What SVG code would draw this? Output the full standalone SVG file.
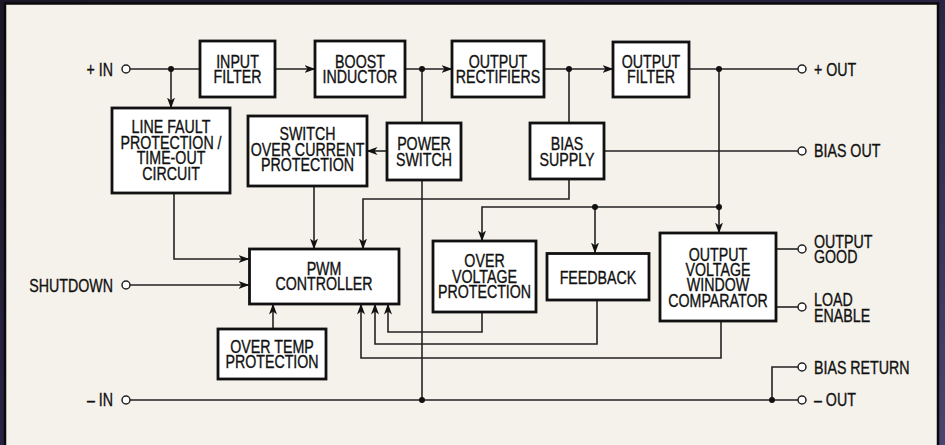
<svg xmlns="http://www.w3.org/2000/svg" width="945" height="445" viewBox="0 0 945 445">
<defs>
<linearGradient id="bg" x1="0" y1="0" x2="1" y2="1">
<stop offset="0" stop-color="#1c1828"/>
<stop offset="0.5" stop-color="#2a2444"/>
<stop offset="1" stop-color="#4a4470"/>
</linearGradient>
<marker id="ah" viewBox="0 0 11 8" refX="10.5" refY="4" markerWidth="11" markerHeight="8" markerUnits="userSpaceOnUse" orient="auto">
<path d="M0,0 L11,4 L0,8 L3,4 z" fill="#111"/>
</marker>
</defs>
<style>
.box{fill:#fff;stroke:#111;stroke-width:2.8}
.ln{fill:none;stroke:#222;stroke-width:1.6}
.dot{fill:#111}
.term{fill:#fff;stroke:#222;stroke-width:1.5}
text{font-family:"Liberation Sans",Arial,sans-serif;font-size:18px;fill:#111;stroke:#111;stroke-width:0.35}
.c{text-anchor:middle}
.e{text-anchor:end}
</style>
<rect x="0" y="0" width="945" height="445" fill="url(#bg)"/>
<rect x="5" y="3.5" width="933" height="446" fill="#f5f2eb" stroke="#0a0a0a" stroke-width="2.5"/>

<g id="connectors">
<line class="ln" x1="130" y1="69" x2="200" y2="69"/>
<line class="ln" x1="171" y1="69" x2="171" y2="108" marker-end="url(#ah)"/>
<line class="ln" x1="275" y1="69" x2="315" y2="69" marker-end="url(#ah)"/>
<line class="ln" x1="405" y1="69" x2="452" y2="69" marker-end="url(#ah)"/>
<line class="ln" x1="422" y1="69" x2="422" y2="123"/>
<line class="ln" x1="422" y1="180" x2="422" y2="400"/>
<line class="ln" x1="544" y1="69" x2="613" y2="69" marker-end="url(#ah)"/>
<line class="ln" x1="569" y1="69" x2="569" y2="123"/>
<line class="ln" x1="689" y1="69" x2="798" y2="69"/>
<line class="ln" x1="719" y1="69" x2="719" y2="233" marker-end="url(#ah)"/>
<line class="ln" x1="387" y1="151" x2="367" y2="151" marker-end="url(#ah)"/>
<line class="ln" x1="604" y1="151" x2="798" y2="151"/>
<polyline class="ln" points="569,179 569,199 363,199 363,249" marker-end="url(#ah)"/>
<polyline class="ln" points="719,207 482,207 482,241" marker-end="url(#ah)"/>
<line class="ln" x1="595" y1="207" x2="595" y2="253" marker-end="url(#ah)"/>
<line class="ln" x1="314" y1="186" x2="314" y2="249" marker-end="url(#ah)"/>
<polyline class="ln" points="174,193 174,259 249,259" marker-end="url(#ah)"/>
<line class="ln" x1="130" y1="285" x2="249" y2="285" marker-end="url(#ah)"/>
<line class="ln" x1="273" y1="329" x2="273" y2="304" marker-end="url(#ah)"/>
<polyline class="ln" points="482,312 482,332 388,332 388,304" marker-end="url(#ah)"/>
<polyline class="ln" points="597,300 597,344 375,344 375,304" marker-end="url(#ah)"/>
<polyline class="ln" points="721,321 721,358 361,358 361,304" marker-end="url(#ah)"/>
<line class="ln" x1="130" y1="400" x2="798" y2="400"/>
<polyline class="ln" points="772,400 772,367 798,367"/>
<line class="ln" x1="776" y1="249" x2="798" y2="249"/>
<line class="ln" x1="776" y1="307" x2="798" y2="307"/>
<circle class="dot" cx="171" cy="69" r="3"/>
<circle class="dot" cx="422" cy="69" r="3"/>
<circle class="dot" cx="569" cy="69" r="3"/>
<circle class="dot" cx="719" cy="69" r="3"/>
<circle class="dot" cx="719" cy="207" r="3"/>
<circle class="dot" cx="595" cy="207" r="3"/>
<circle class="dot" cx="422" cy="400" r="3"/>
<circle class="dot" cx="772" cy="400" r="3"/>
</g>

<g id="terminals">
<circle class="term" cx="126" cy="69" r="4"/>
<circle class="term" cx="126" cy="285" r="4"/>
<circle class="term" cx="126" cy="400" r="4"/>
<circle class="term" cx="802" cy="69" r="4"/>
<circle class="term" cx="802" cy="151" r="4"/>
<circle class="term" cx="802" cy="249" r="4"/>
<circle class="term" cx="802" cy="307" r="4"/>
<circle class="term" cx="802" cy="367" r="4"/>
<circle class="term" cx="802" cy="400" r="4"/>
<text class="e" transform="translate(113,75.5) scale(0.79,1)">+ IN</text>
<text class="e" transform="translate(113,292) scale(0.79,1)">SHUTDOWN</text>
<text class="e" transform="translate(113,406) scale(0.79,1)">– IN</text>
<text transform="translate(814,75.5) scale(0.79,1)">+ OUT</text>
<text transform="translate(814,157) scale(0.79,1)">BIAS OUT</text>
<text transform="translate(814,248) scale(0.79,1)"><tspan x="0" y="0">OUTPUT</tspan><tspan x="0" y="15.2">GOOD</tspan></text>
<text transform="translate(814,306) scale(0.79,1)"><tspan x="0" y="0">LOAD</tspan><tspan x="0" y="15.5">ENABLE</tspan></text>
<text transform="translate(814,374) scale(0.79,1)">BIAS RETURN</text>
<text transform="translate(814,406) scale(0.79,1)">– OUT</text>
</g>

<g id="input-filter">
<rect class="box" x="200" y="41" width="75" height="56"/>
<text class="c" transform="translate(237.5,67.8) scale(0.79,1)"><tspan x="0" y="0">INPUT</tspan><tspan x="0" y="15.5">FILTER</tspan></text>
</g>
<g id="boost-inductor">
<rect class="box" x="315" y="41" width="90" height="56"/>
<text class="c" transform="translate(360,67.8) scale(0.79,1)"><tspan x="0" y="0">BOOST</tspan><tspan x="0" y="15.5">INDUCTOR</tspan></text>
</g>
<g id="output-rectifiers">
<rect class="box" x="452" y="41" width="92" height="56"/>
<text class="c" transform="translate(498,67.8) scale(0.79,1)"><tspan x="0" y="0">OUTPUT</tspan><tspan x="0" y="15.5">RECTIFIERS</tspan></text>
</g>
<g id="output-filter">
<rect class="box" x="613" y="42" width="76" height="55"/>
<text class="c" transform="translate(651,67.8) scale(0.79,1)"><tspan x="0" y="0">OUTPUT</tspan><tspan x="0" y="15.5">FILTER</tspan></text>
</g>
<g id="line-fault">
<rect class="box" x="112" y="108" width="118" height="85"/>
<text class="c" transform="translate(171,133.3) scale(0.79,1)"><tspan x="0" y="0">LINE FAULT</tspan><tspan x="0" y="15.5">PROTECTION /</tspan><tspan x="0" y="31">TIME-OUT</tspan><tspan x="0" y="46.5">CIRCUIT</tspan></text>
</g>
<g id="switch-over-current">
<rect class="box" x="248" y="116" width="119" height="70"/>
<text class="c" transform="translate(307.5,140) scale(0.79,1)"><tspan x="0" y="0">SWITCH</tspan><tspan x="0" y="15.5">OVER CURRENT</tspan><tspan x="0" y="31">PROTECTION</tspan></text>
</g>
<g id="power-switch">
<rect class="box" x="387" y="123" width="74" height="57"/>
<text class="c" transform="translate(424,150) scale(0.79,1)"><tspan x="0" y="0">POWER</tspan><tspan x="0" y="15.5">SWITCH</tspan></text>
</g>
<g id="bias-supply">
<rect class="box" x="530" y="123" width="74" height="56"/>
<text class="c" transform="translate(567,150) scale(0.79,1)"><tspan x="0" y="0">BIAS</tspan><tspan x="0" y="15.5">SUPPLY</tspan></text>
</g>
<g id="pwm-controller">
<rect class="box" x="249.5" y="249" width="149.5" height="55"/>
<text class="c" transform="translate(324,274.5) scale(0.79,1)"><tspan x="0" y="0">PWM</tspan><tspan x="0" y="15.5">CONTROLLER</tspan></text>
</g>
<g id="over-temp">
<rect class="box" x="218" y="329" width="108" height="50"/>
<text class="c" transform="translate(272,352.5) scale(0.79,1)"><tspan x="0" y="0">OVER TEMP</tspan><tspan x="0" y="15.5">PROTECTION</tspan></text>
</g>
<g id="over-voltage">
<rect class="box" x="433" y="241" width="103" height="71"/>
<text class="c" transform="translate(484.5,267) scale(0.79,1)"><tspan x="0" y="0">OVER</tspan><tspan x="0" y="15.5">VOLTAGE</tspan><tspan x="0" y="31">PROTECTION</tspan></text>
</g>
<g id="feedback">
<rect class="box" x="547" y="253.5" width="102" height="46.5"/>
<text class="c" transform="translate(598,283.5) scale(0.79,1)">FEEDBACK</text>
</g>
<g id="window-comparator">
<rect class="box" x="660" y="233" width="116" height="88"/>
<text class="c" transform="translate(718,260.5) scale(0.79,1)"><tspan x="0" y="0">OUTPUT</tspan><tspan x="0" y="15.5">VOLTAGE</tspan><tspan x="0" y="31">WINDOW</tspan><tspan x="0" y="46.5">COMPARATOR</tspan></text>
</g>
</svg>
